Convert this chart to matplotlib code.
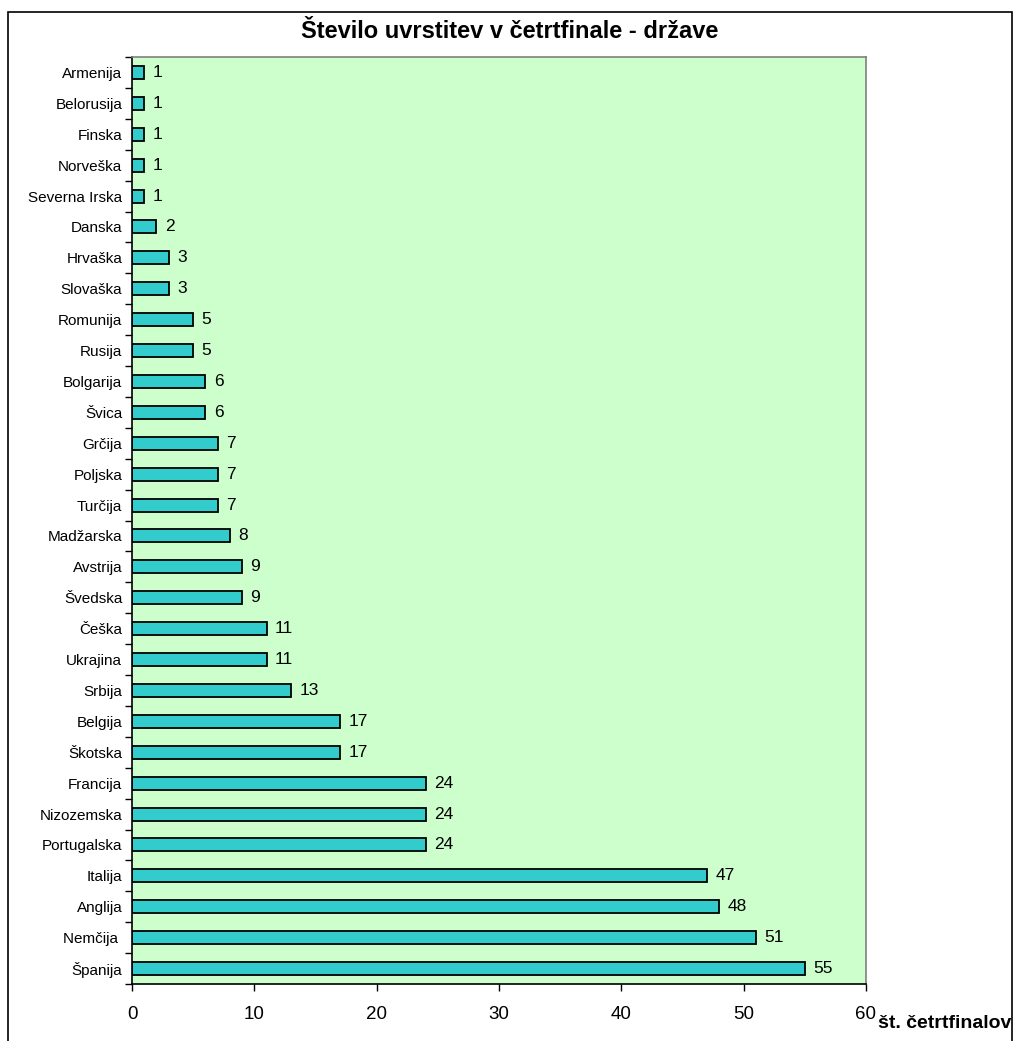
import matplotlib.pyplot as plt
from matplotlib.patches import Rectangle

# countries from top to bottom as in the chart
countries = ["Armenija", "Belorusija", "Finska", "Norveška", "Severna Irska",
             "Danska", "Hrvaška", "Slovaška", "Romunija", "Rusija",
             "Bolgarija", "Švica", "Grčija", "Poljska", "Turčija",
             "Madžarska", "Avstrija", "Švedska", "Češka", "Ukrajina",
             "Srbija", "Belgija", "Škotska", "Francija", "Nizozemska",
             "Portugalska", "Italija", "Anglija", "Nemčija ", "Španija"]
counts = [1, 1, 1, 1, 1,
          2, 3, 3, 5, 5,
          6, 6, 7, 7, 7,
          8, 9, 9, 11, 11,
          13, 17, 17, 24, 24,
          24, 47, 48, 51, 55]
x_ticks = [0, 10, 20, 30, 40, 50, 60]


def main():
    plt.rcParams["font.family"] = ["Liberation Sans", "DejaVu Sans"]

    W, H = 1013, 1041
    fig = plt.figure(figsize=(W / 100, H / 100), dpi=100)

    # outer chart frame
    fig.patches.append(Rectangle((8 / W, -0.01), (1011.5 - 8) / W, 1 - 12 / H + 0.01,
                                 transform=fig.transFigure, fill=False,
                                 edgecolor="black", linewidth=1.2))

    ax = fig.add_axes([132 / W, 1 - 984 / H, (866 - 132) / W, (984 - 57) / H])
    ax.set_facecolor("#CCFFCC")

    n = len(countries)
    ypos = list(range(n - 1, -1, -1))
    ax.barh(ypos, counts, height=0.42, color="#33CCCC",
            edgecolor="black", linewidth=1.3)

    for y, v in zip(ypos, counts):
        ax.annotate(str(v), (v, y), xytext=(6, 0), textcoords="offset points",
                    va="center", ha="left", fontsize=12.5)

    ax.set_xlim(0, 60)
    ax.set_ylim(-0.5, n - 0.5)
    ax.set_xticks(x_ticks)
    ax.set_xticklabels([str(t) for t in x_ticks], fontsize=13.5)

    ax.set_yticks(ypos)
    ax.set_yticklabels(countries, fontsize=11)
    ax.set_yticks([k + 0.5 for k in range(-1, n)], minor=True)
    ax.tick_params(axis="y", which="major", length=0, pad=7)
    ax.tick_params(axis="y", which="minor", length=5, direction="out", width=1)
    ax.tick_params(axis="x", length=5, direction="out", width=1, pad=11)

    ax.spines["left"].set_color("black")
    ax.spines["bottom"].set_color("black")
    ax.spines["top"].set_color("#808080")
    ax.spines["right"].set_color("#808080")
    for s in ax.spines.values():
        s.set_linewidth(1.2)

    fig.text(510 / W, 1 - 32 / H, "Število uvrstitev v četrtfinale - države",
             ha="center", va="center", fontsize=17, fontweight="bold")
    fig.text(878 / W, 1 - 1023 / H, "št. četrtfinalov",
             ha="left", va="center", fontsize=14, fontweight="bold")

    fig.savefig("out.png", dpi=100)


if __name__ == "__main__":
    main()
